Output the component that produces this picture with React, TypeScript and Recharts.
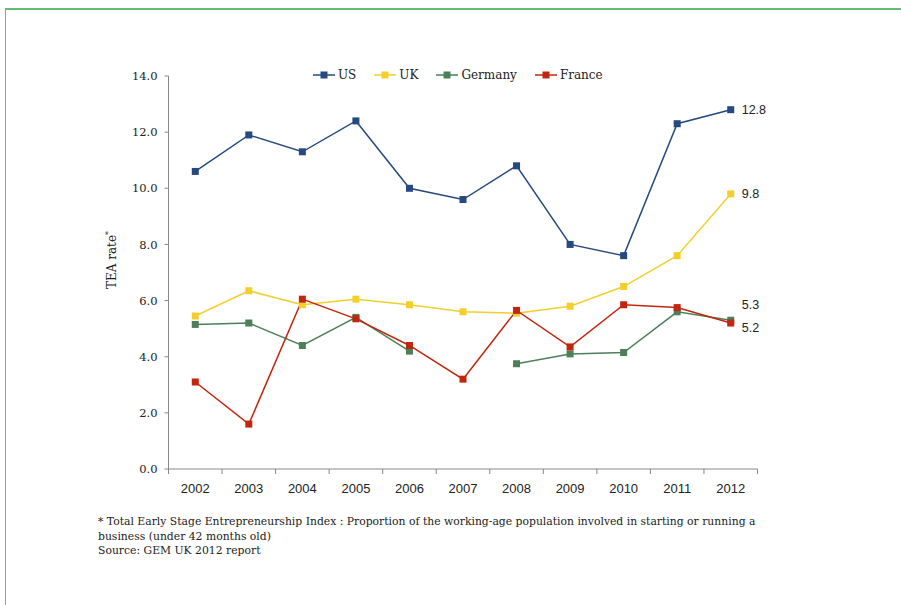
import React from 'react';
import { LineChart, Line, XAxis, YAxis, LabelList } from 'recharts';

const years = ['2002', '2003', '2004', '2005', '2006', '2007', '2008', '2009', '2010', '2011', '2012'];
const usValues = [10.6, 11.9, 11.3, 12.4, 10.0, 9.6, 10.8, 8.0, 7.6, 12.3, 12.8];
const ukValues = [5.45, 6.35, 5.85, 6.05, 5.85, 5.6, 5.55, 5.8, 6.5, 7.6, 9.8];
const germanyValues = [5.15, 5.2, 4.4, 5.4, 4.2, null, 3.75, 4.1, 4.15, 5.6, 5.3];
const franceValues = [3.1, 1.6, 6.05, 5.35, 4.4, 3.2, 5.65, 4.35, 5.85, 5.75, 5.2];
const yTicks = [0, 2, 4, 6, 8, 10, 12, 14];

const series = [
  { key: 'US', color: '#264a7f', labelDy: 0 },
  { key: 'UK', color: '#f3cf2c', labelDy: 0 },
  { key: 'Germany', color: '#4d7f58', labelDy: -16 },
  { key: 'France', color: '#c1260f', labelDy: 5 },
];

const data = years.map((year, i) => ({
  year,
  US: usValues[i],
  UK: ukValues[i],
  Germany: germanyValues[i],
  France: franceValues[i],
}));

const PLOT_LEFT = 168.5;
const PLOT_RIGHT = 757.5;
const BAND = (PLOT_RIGHT - PLOT_LEFT) / years.length;
const SLAB = '"DejaVu Serif", serif';

const SquareDot = (color: string) => (props: any) => {
  const { cx, cy, value, index } = props;
  if (value == null || cx == null || cy == null) return <g key={index} />;
  return <rect key={index} x={cx - 3.5} y={cy - 3.5} width={7} height={7} fill={color} />;
};

const EndLabel = (dy: number) => (props: any) => {
  const { x, y, value, index } = props;
  if (index !== years.length - 1 || value == null) return null;
  return (
    <text x={x + 11} y={y + dy} dy="0.35em" fontSize={12.5} fill="#222" fontFamily='"Liberation Sans", Arial, sans-serif'>
      {Number(value).toFixed(1)}
    </text>
  );
};

const XTick = (props: any) => {
  const { x, y, payload, index } = props;
  return (
    <g>
      <line x1={x - BAND / 2} y1={y} x2={x - BAND / 2} y2={y + 5} stroke="#888" />
      {index === years.length - 1 && <line x1={x + BAND / 2} y1={y} x2={x + BAND / 2} y2={y + 5} stroke="#888" />}
      <text x={x} y={y + 24} textAnchor="middle" fontSize={13} fill="#222" fontFamily='"Liberation Sans", Arial, sans-serif'>
        {payload.value}
      </text>
    </g>
  );
};

const YLabel = () => (
  <text transform="translate(116, 260) rotate(-90)" textAnchor="middle" fontSize={12} fill="#222" fontFamily={SLAB}>
    TEA rate
    <tspan fontSize={8} dy={-5}>*</tspan>
  </text>
);

const ChartLegend = () => (
  <div style={{ position: 'absolute', left: 313, top: 68, display: 'flex', alignItems: 'center', fontFamily: SLAB, fontSize: 12, color: '#222' }}>
    {series.map(s => (
      <div key={s.key} style={{ display: 'flex', alignItems: 'center', marginRight: 18 }}>
        <svg width={22} height={10} style={{ marginRight: 3 }}>
          <line x1={0} y1={5} x2={22} y2={5} stroke={s.color} strokeWidth={1.5} />
          <rect x={7.5} y={1.5} width={7} height={7} fill={s.color} />
        </svg>
        <span>{s.key}</span>
      </div>
    ))}
  </div>
);

export default function App() {
  return (
    <div style={{ position: 'fixed', left: 0, top: 0, width: 901, height: 605, overflow: 'hidden', background: '#fff' }}>
      <div style={{ position: 'absolute', left: 5, top: 8, width: 2000, height: 2000, borderTop: '2px solid #62bd6e', borderLeft: '1px solid #62bd6e' }} />
      <div style={{ position: 'absolute', left: 0, top: 0 }}>
        <LineChart width={901} height={500} data={data} margin={{ top: 76, right: 901 - PLOT_RIGHT, bottom: 1, left: PLOT_LEFT - 60 }}>
          <XAxis dataKey="year" scale="band" height={30} axisLine={{ stroke: '#888' }} tickLine={false} tickSize={0} tickMargin={0} tick={<XTick />} interval={0} />
          <YAxis
            domain={[0, 14]}
            ticks={yTicks}
            width={60}
            tickFormatter={(v: number) => v.toFixed(1)}
            axisLine={{ stroke: '#888' }}
            tickLine={{ stroke: '#888' }}
            tickSize={4}
            tickMargin={7}
            tick={{ fill: '#222', fontSize: 11.5, fontFamily: SLAB }}
            label={<YLabel />}
          />
          {series.map(s => (
            <Line
              key={s.key}
              dataKey={s.key}
              stroke={s.color}
              strokeWidth={1.5}
              dot={SquareDot(s.color)}
              activeDot={false}
              connectNulls={false}
              isAnimationActive={false}
            >
              <LabelList dataKey={s.key} content={EndLabel(s.labelDy)} />
            </Line>
          ))}
        </LineChart>
      </div>
      <ChartLegend />
      <div style={{ position: 'absolute', left: 98, top: 515, width: 690, fontFamily: SLAB, fontSize: 10.8, lineHeight: '14.5px', color: '#222' }}>
        * Total Early Stage Entrepreneurship Index : Proportion of the working-age population involved in starting or running a business (under 42 months old)
        <br />
        Source: GEM UK 2012 report
      </div>
    </div>
  );
}
